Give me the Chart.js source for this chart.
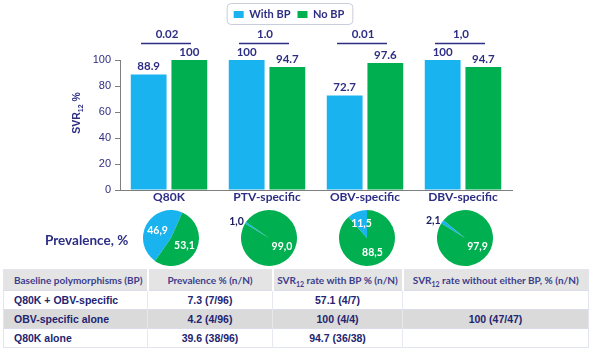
<!DOCTYPE html>
<html>
<head>
<meta charset="utf-8">
<script src="https://cdn.jsdelivr.net/npm/chart.js@4.4.0/dist/chart.umd.min.js"></script>
<style>
  body { margin: 0; background: #fff; }
  #wrap { position: relative; width: 593px; height: 352px; overflow: hidden; }
  #bars { position: absolute; left: 0; top: 0; }
  .pie { position: absolute; top: 208px; }
  #prev { position: absolute; left: 45px; top: 232px; line-height: 16px; font: bold 13.5px Lato, sans-serif; color: #2D2E83; }
  #tbl { position: absolute; left: 3px; top: 269px; width: 585px; border-collapse: collapse; table-layout: fixed; border: 1px solid #E2E4EE; }
  #tbl th { height: 20px; line-height: 20px; padding: 0; background: #E4E4E4; color: #3C3D8C; font: bold 10px Lato, sans-serif; text-align: center; border-left: 2px solid #fff; }
  #tbl td { height: 18px; line-height: 18px; padding: 0; font: bold 10.5px 'Liberation Sans', Arial, sans-serif; color: #232470; text-align: center; border-top: 1px solid #DADCEA; border-left: 1px solid #E6E8F2; }
  #tbl th:first-child, #tbl td:first-child { text-align: left; padding-left: 10px; border-left: none; }
  #tbl tr.shade td { background: #DADADA; border-left-color: #E8E8E8; }
  #tbl sub { font-size: 7px; line-height: 0; }
</style>
</head>
<body>
<div id="wrap">
  <canvas id="bars" width="593" height="210"></canvas>
  <canvas class="pie" id="pie0" width="100" height="60"></canvas>
  <canvas class="pie" id="pie1" width="100" height="60"></canvas>
  <canvas class="pie" id="pie2" width="100" height="60"></canvas>
  <canvas class="pie" id="pie3" width="100" height="60"></canvas>
  <div id="prev">Prevalence, %</div>
  <table id="tbl"></table>
</div>
<script>
// valeurs
const categories = ['Q80K', 'PTV-specific', 'OBV-specific', 'DBV-specific'];
const withBP = [88.9, 100, 72.7, 100];
const noBP = [100, 94.7, 97.6, 94.7];
const pValues = ['0.02', '1.0', '0.01', '1,0'];
const yTicks = [0, 20, 40, 60, 80, 100];

// camemberts de prévalence
const prevWithBP = [46.9, 1.0, 11.5, 2.1];
const prevNoBP = [53.1, 99.0, 88.5, 97.9];
const pieStart = [215, 301, -41.4, -58];

// tableau
const tableHeaders = ['Baseline polymorphisms (BP)', 'Prevalence % (n/N)', 'SVR<sub>12</sub> rate with BP % (n/N)', 'SVR<sub>12</sub> rate without either BP, % (n/N)'];
const rowLabels = ['Q80K + OBV-specific', 'OBV-specific alone', 'Q80K alone'];
const prevalence = ['7.3 (7/96)', '4.2 (4/96)', '39.6 (38/96)'];
const svrWithBP = ['57.1 (4/7)', '100 (4/4)', '94.7 (36/38)'];
const svrWithout = ['', '100 (47/47)', ''];

const BLUE = '#19B3F0';
const GREEN = '#00B050';
const NAVY = '#2D2E83';

// plus d'espace sous la légende
const legendSpace = {
  id: 'legendSpace',
  beforeInit(chart) {
    const fit = chart.legend.fit;
    chart.legend.fit = function () { fit.call(this); this.height = 58; };
  }
};

const barExtras = {
  id: 'barExtras',
  afterDraw(chart) {
    const ctx = chart.ctx;
    ctx.save();
    // valeurs au-dessus des barres
    ctx.font = 'bold 11.5px Lato';
    ctx.fillStyle = NAVY;
    ctx.textAlign = 'center';
    ctx.textBaseline = 'middle';
    chart.data.datasets.forEach((ds, i) => {
      chart.getDatasetMeta(i).data.forEach((bar, j) => {
        ctx.fillText(String(ds.data[j]), bar.x, bar.y - 8);
      });
    });
    // p-values
    const x = chart.scales.x;
    ctx.strokeStyle = NAVY;
    ctx.lineWidth = 1.5;
    pValues.forEach((p, j) => {
      const cx = x.getPixelForValue(j) - 3;
      ctx.beginPath();
      ctx.moveTo(cx - 25, 43.5);
      ctx.lineTo(cx + 25, 43.5);
      ctx.stroke();
      ctx.fillText(p, cx + 1, 34);
    });
    // titre de l'axe y avec indice
    ctx.translate(76, 113);
    ctx.rotate(-Math.PI / 2);
    ctx.textAlign = 'left';
    ctx.textBaseline = 'alphabetic';
    const big = 'bold 10.5px "Liberation Sans"', small = 'bold 7px "Liberation Sans"';
    ctx.font = big; const w1 = ctx.measureText('SVR').width, w3 = ctx.measureText(' %').width;
    ctx.font = small; const w2 = ctx.measureText('12').width;
    let sx = -(w1 + w2 + w3) / 2;
    ctx.font = big; ctx.fillText('SVR', sx, 4); sx += w1;
    ctx.font = small; ctx.fillText('12', sx, 6.5); sx += w2;
    ctx.font = big; ctx.fillText(' %', sx, 4);
    ctx.restore();
    // cadre de la légende
    const hb = chart.legend.legendHitBoxes;
    if (hb && hb.length) {
      const last = hb[hb.length - 1];
      const l = hb[0].left - 7, r = last.left + last.width + 8;
      ctx.save();
      ctx.strokeStyle = '#C9CCDA';
      ctx.lineWidth = 1;
      ctx.beginPath();
      ctx.roundRect(l + 0.5, hb[0].top - 5.5, r - l, hb[0].height + 10, 4);
      ctx.stroke();
      ctx.restore();
    }
  }
};

const barChart = new Chart(document.getElementById('bars'), {
  type: 'bar',
  data: {
    labels: categories,
    datasets: [
      { label: 'With BP', data: withBP, backgroundColor: BLUE },
      { label: 'No BP', data: noBP, backgroundColor: GREEN }
    ]
  },
  options: {
    responsive: false,
    animation: false,
    categoryPercentage: 0.83,
    barPercentage: 0.88,
    layout: { padding: { left: 66, right: 81, top: 2, bottom: 4 } },
    scales: {
      x: {
        grid: { display: false, drawTicks: false },
        border: { display: true, color: '#7F7F7F', width: 1 },
        ticks: { color: NAVY, font: { family: 'Lato', size: 12, weight: 'bold' }, padding: 0 },
        afterFit(s) { s.height = 16; }
      },
      y: {
        min: 0, max: 100,
        afterBuildTicks(s) { s.ticks = yTicks.map(v => ({ value: v })); },
        grid: { drawOnChartArea: false, drawTicks: true, tickLength: 5, color: '#7F7F7F' },
        border: { display: true, color: '#7F7F7F', width: 1 },
        ticks: { color: NAVY, font: { family: 'Liberation Sans', size: 11 }, padding: 4 },
        afterFit(s) { s.width = 54; }
      }
    },
    plugins: {
      legend: {
        position: 'top',
        labels: { color: NAVY, font: { family: 'Lato', size: 11, weight: 'bold' }, boxWidth: 10, boxHeight: 7, padding: 7 }
      },
      tooltip: { enabled: false }
    }
  },
  plugins: [legendSpace, barExtras]
});

// étiquettes des camemberts
const pieLabels = {
  id: 'pieLabels',
  afterDatasetsDraw(chart) {
    const ctx = chart.ctx;
    const data = chart.data.datasets[0].data;
    ctx.save();
    ctx.font = 'bold 10.5px Lato';
    ctx.textBaseline = 'middle';
    chart.getDatasetMeta(0).data.forEach((arc, i) => {
      const v = data[i];
      const mid = (arc.startAngle + arc.endAngle) / 2;
      const txt = v.toFixed(1).replace('.', ',');
      let r;
      if (v < 5) {
        r = arc.outerRadius + 2;
        ctx.textAlign = 'right';
        ctx.fillStyle = '#1B1C5E';
      } else {
        r = arc.outerRadius * 0.55;
        ctx.textAlign = 'center';
        ctx.fillStyle = '#fff';
      }
      ctx.fillText(txt, arc.x + Math.cos(mid) * r, arc.y + Math.sin(mid) * r);
    });
    ctx.restore();
  }
};

categories.forEach((c, i) => {
  const cv = document.getElementById('pie' + i);
  cv.style.left = (barChart.scales.x.getPixelForValue(i) + 2 - 50) + 'px';
  new Chart(cv, {
    type: 'pie',
    data: {
      labels: ['With BP', 'No BP'],
      datasets: [{ data: [prevWithBP[i], prevNoBP[i]], backgroundColor: [BLUE, GREEN], borderWidth: 0 }]
    },
    options: {
      responsive: false,
      animation: false,
      rotation: pieStart[i],
      layout: { padding: 2 },
      plugins: { legend: { display: false }, tooltip: { enabled: false } }
    },
    plugins: [pieLabels]
  });
});

// construction du tableau
const tbl = document.getElementById('tbl');
let html = '<colgroup><col style="width:144px"><col style="width:125px"><col style="width:130px"><col style="width:186px"></colgroup>';
html += '<tr>' + tableHeaders.map(h => '<th>' + h + '</th>').join('') + '</tr>';
rowLabels.forEach((lab, i) => {
  html += '<tr' + (i === 1 ? ' class="shade"' : '') + '><td>' + lab + '</td><td>' + prevalence[i] + '</td><td>' + svrWithBP[i] + '</td><td>' + svrWithout[i] + '</td></tr>';
});
tbl.innerHTML = html;
</script>
</body>
</html>
